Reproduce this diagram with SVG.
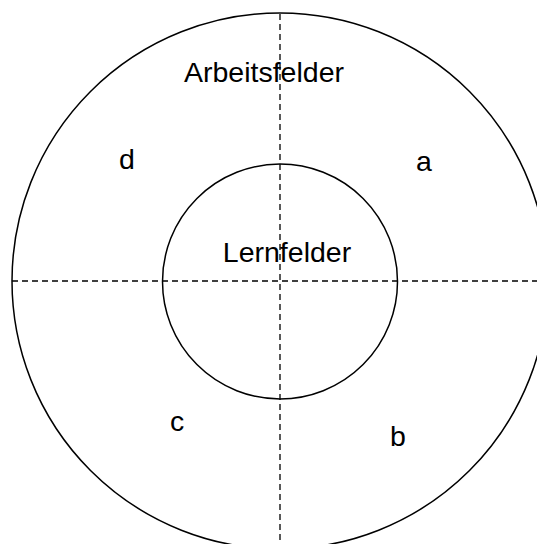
<svg xmlns="http://www.w3.org/2000/svg" width="537" height="544" viewBox="0 0 537 544">
<style>
.c{fill:none;stroke:#000;stroke-width:1.5}
.d{fill:none;stroke:#000;stroke-width:1.3;stroke-dasharray:6,4}
.t{font-family:"Liberation Sans",Arial,sans-serif;font-size:28.5px;fill:#000;text-anchor:middle}
</style>
<rect width="537" height="544" fill="#fff"/>
<g id="outer"><circle class="c" cx="280" cy="281" r="268"/><text class="t" x="264" y="82">Arbeitsfelder</text></g>
<g id="inner"><circle class="c" cx="280" cy="281.5" r="117.5"/><text class="t" x="287" y="262">Lernfelder</text></g>
<g id="labels">
<text class="t" x="127" y="169">d</text>
<text class="t" x="424" y="171">a</text>
<text class="t" x="177" y="431">c</text>
<text class="t" x="398" y="446">b</text>
</g>
<g id="connectors">
<line class="d" x1="280" y1="14" x2="280" y2="544"/>
<line class="d" x1="12" y1="281" x2="537" y2="281"/>
</g>
</svg>
